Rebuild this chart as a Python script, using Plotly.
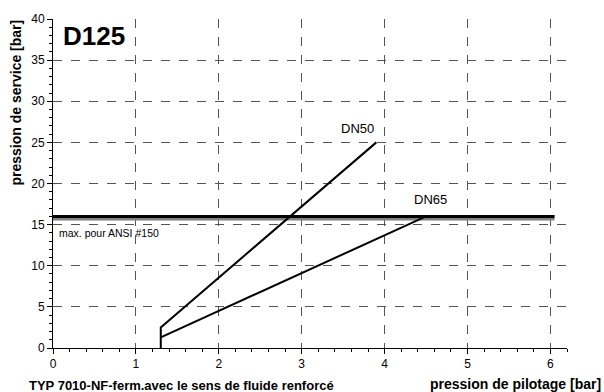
import plotly.graph_objects as go

# Data
dn50_x = [1.3, 1.3, 3.9]
dn50_y = [0, 2.5, 25]
dn65_x = [1.3, 4.5]
dn65_y = [1.3, 16]
ansi_x = [0, 6.05]
ansi_black_y = [16.0, 16.0]
ansi_gray_y = [15.65, 15.65]

x_ticks = [0, 1, 2, 3, 4, 5, 6]
y_ticks = [0, 5, 10, 15, 20, 25, 30, 35, 40]

FONT = "Liberation Sans, Arial, sans-serif"

# plot area in pixels: left 53, right 567, top 16, bottom 348
PW, PH = 514.0, 332.0


def px_x(px):
    return (px - 53) / PW


def px_y(py):
    return (348 - py) / PH


fig = go.Figure()
fig.add_trace(go.Scatter(x=ansi_x, y=ansi_gray_y, mode="lines",
                         line=dict(color="#808080", width=2.5), hoverinfo="skip"))
fig.add_trace(go.Scatter(x=ansi_x, y=ansi_black_y, mode="lines",
                         line=dict(color="black", width=3), hoverinfo="skip"))
fig.add_trace(go.Scatter(x=dn50_x, y=dn50_y, mode="lines",
                         line=dict(color="black", width=2)))
fig.add_trace(go.Scatter(x=dn65_x, y=dn65_y, mode="lines",
                         line=dict(color="black", width=2)))

fig.add_annotation(x=0.1, y=37.9, xref="x", yref="y", text="<b>D125</b>",
                   showarrow=False, xanchor="left", yanchor="middle",
                   font=dict(size=26, color="black", family=FONT))
fig.add_annotation(x=0.05, y=13.95, xref="x", yref="y", text="max. pour ANSI #150",
                   showarrow=False, xanchor="left", yanchor="middle",
                   font=dict(size=10.5, color="black", family=FONT))
fig.add_annotation(x=3.67, y=26.7, xref="x", yref="y", text="DN50",
                   showarrow=False, xanchor="center", yanchor="middle",
                   font=dict(size=13, color="black", family=FONT))
fig.add_annotation(x=4.55, y=18.0, xref="x", yref="y", text="DN65",
                   showarrow=False, xanchor="center", yanchor="middle",
                   font=dict(size=13, color="black", family=FONT))

# axis titles as annotations
fig.add_annotation(x=px_x(603), y=px_y(384), xref="paper", yref="paper",
                   text="<b>pression de pilotage [bar]</b>",
                   showarrow=False, xanchor="right", yanchor="middle",
                   font=dict(size=14, color="black", family=FONT))
fig.add_annotation(x=px_x(27), y=px_y(385.5), xref="paper", yref="paper",
                   text="<b>TYP 7010-NF-ferm.avec le sens de fluide renforcé</b>",
                   showarrow=False, xanchor="left", yanchor="middle",
                   font=dict(size=13, color="black", family=FONT))
fig.add_annotation(x=px_x(16.5), y=px_y(15), xref="paper", yref="paper",
                   text="<b>pression de service [bar]</b>", textangle=-90,
                   showarrow=False, xanchor="center", yanchor="top",
                   font=dict(size=14, color="black", family=FONT))

fig.update_layout(
    width=604, height=392,
    margin=dict(l=53, r=37, t=16, b=44),
    paper_bgcolor="white", plot_bgcolor="white",
    showlegend=False,
    font=dict(family=FONT, size=12, color="black"),
    xaxis=dict(range=[0, 6.2], tickvals=x_ticks, ticks="outside", ticklen=5,
               tickcolor="black", showline=True, linecolor="black", linewidth=1,
               showgrid=True, gridcolor="#555555", griddash="dash", gridwidth=1,
               zeroline=False, tickfont=dict(size=12),
               minor=dict(dtick=0.2, ticks="outside", ticklen=3, tickcolor="black", showgrid=False)),
    yaxis=dict(range=[0, 40], tickvals=y_ticks, ticks="outside", ticklen=5,
               tickcolor="black", showline=True, linecolor="black", linewidth=1,
               showgrid=True, gridcolor="#555555", griddash="dash", gridwidth=1,
               zeroline=False, tickfont=dict(size=12),
               minor=dict(dtick=1, ticks="outside", ticklen=3, tickcolor="black", showgrid=False)),
)

fig.write_html("out.html")
